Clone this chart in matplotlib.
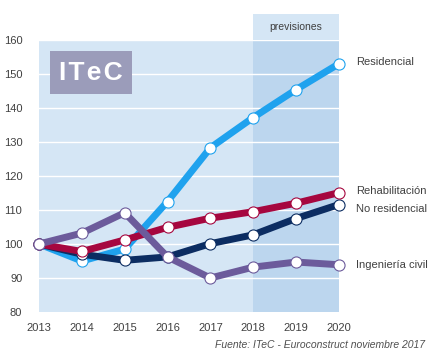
import numpy as np
import matplotlib.pyplot as plt
from matplotlib.patches import Rectangle

plt.rcParams['font.family'] = ['Liberation Sans', 'DejaVu Sans']

years = [2013, 2014, 2015, 2016, 2017, 2018, 2019, 2020]
residencial = [100, 95, 98.5, 112.5, 128.3, 137.2, 145.4, 153]
rehabilitacion = [100, 97.8, 101.2, 104.9, 107.6, 109.5, 112, 115.1]
no_residencial = [100, 97, 95.2, 96.2, 100.1, 102.7, 107.5, 111.6]
ing_civil = [100, 103.2, 109.2, 96.2, 90, 93.2, 94.7, 93.9]

names = ['Residencial', 'No residencial', 'Rehabilitación', 'Ingeniería civil']
series = [residencial, no_residencial, rehabilitacion, ing_civil]
colors = ['#1fa2ee', '#0c2d62', '#a6073f', '#6c5b9b']
label_y = [153.5, 110.2, 115.5, 93.8]

fig = plt.figure(figsize=(4.43, 3.57), dpi=100)
ax = fig.add_axes([0.088, 0.126, 0.677, 0.762])
ax.set_xlim(2013, 2020)
ax.set_ylim(80, 160)

light = '#d5e6f5'
dark = '#bcd6ee'
ax.add_patch(Rectangle((2013, 80), 7, 80, color=light, zorder=0, lw=0))
ax.add_patch(Rectangle((2018, 80), 2, 80, color=dark, zorder=0, lw=0))
ax.add_patch(Rectangle((2018, 160), 2, 7.7, color=light, zorder=0, lw=0, clip_on=False))
ax.text(2019, 163.9, 'previsiones', ha='center', va='center', fontsize=7.5, color='#404040')

for yv in range(90, 161, 10):
    ax.axhline(yv, color='white', lw=1, zorder=1)

for name, vals, c, ly in zip(names, series, colors, label_y):
    ax.plot(years, vals, color=c, lw=5, zorder=3, solid_capstyle='round',
            marker='o', markersize=8, markerfacecolor='white', markeredgecolor=c,
            markeredgewidth=0.8, clip_on=False)
    ax.text(2020.4, ly, name, ha='left', va='center', fontsize=8, color='#404040')

# ITeC logo box
ax.add_patch(Rectangle((0.037, 0.8), 0.273, 0.16, transform=ax.transAxes,
                       color='#9b9cba', lw=0, zorder=4))
ax.text(0.1735, 0.88, 'I\u200aT\u200ae\u200aC', transform=ax.transAxes, ha='center', va='center',
        fontsize=19, fontweight='bold', color='white', zorder=5)

for s in ax.spines.values():
    s.set_visible(False)
ax.tick_params(length=0, labelsize=8, labelcolor='#404040')
ax.tick_params(axis='y', pad=12)
ax.tick_params(axis='x', pad=8)
ax.set_xticks(years)
ax.set_yticks(range(80, 161, 10))

fig.text(0.96, 0.035, 'Fuente: ITeC - Euroconstruct noviembre 2017', ha='right', va='center',
         fontsize=7.5, style='italic', color='#505050')

fig.savefig('out.png', dpi=100)
